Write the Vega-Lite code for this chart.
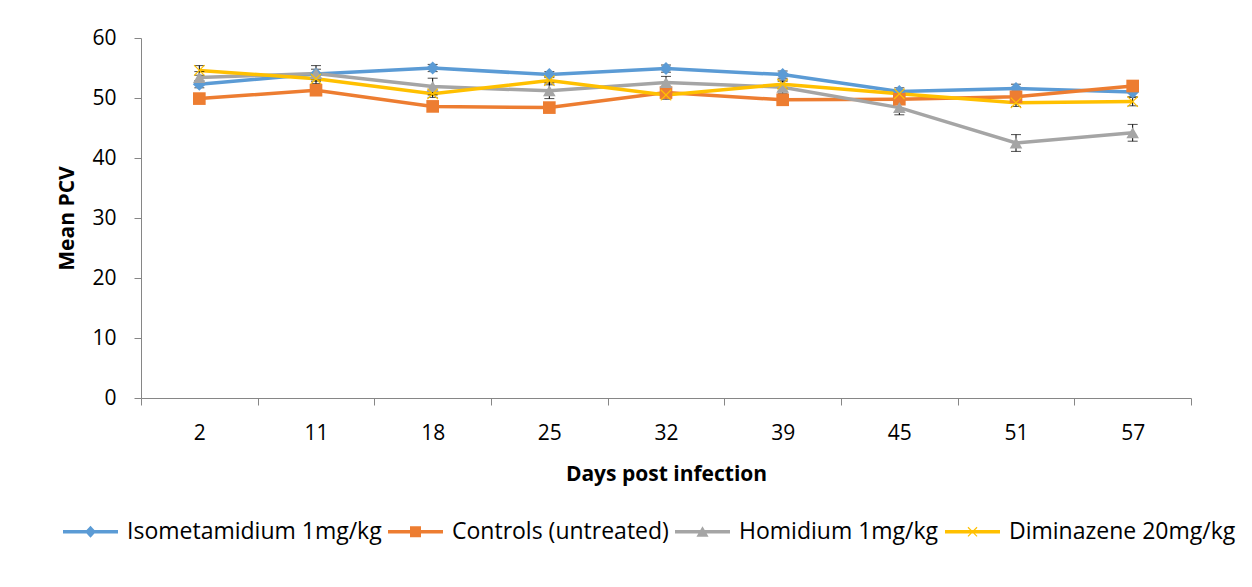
{
  "$schema": "https://vega.github.io/schema/vega-lite/v6.json",
  "width": 1050,
  "height": 360,
  "autosize": {"type": "none"},
  "padding": {"left": 141, "top": 38, "right": 61, "bottom": 189},
  "background": "white",
  "config": {
    "view": {"stroke": null},
    "font": "Open Sans",
    "axis": {
      "labelFont": "Open Sans",
      "labelFontSize": 21,
      "labelColor": "#000000",
      "titleFont": "Open Sans",
      "titleFontSize": 21,
      "titleFontWeight": "bold",
      "titleColor": "#000000",
      "domainColor": "#868686",
      "tickColor": "#868686",
      "tickSize": 7,
      "grid": false
    }
  },
  "data": {
    "values": [
      {"day": 2, "series": "Isometamidium 1mg/kg", "pcv": 52.3, "err": 0.6},
      {"day": 11, "series": "Isometamidium 1mg/kg", "pcv": 54.0, "err": 0.8},
      {"day": 18, "series": "Isometamidium 1mg/kg", "pcv": 55.0, "err": 0.6},
      {"day": 25, "series": "Isometamidium 1mg/kg", "pcv": 53.9, "err": 0.5},
      {"day": 32, "series": "Isometamidium 1mg/kg", "pcv": 54.9, "err": 0.6},
      {"day": 39, "series": "Isometamidium 1mg/kg", "pcv": 53.9, "err": 0.6},
      {"day": 45, "series": "Isometamidium 1mg/kg", "pcv": 51.1, "err": 0.6},
      {"day": 51, "series": "Isometamidium 1mg/kg", "pcv": 51.6, "err": 0.7},
      {"day": 57, "series": "Isometamidium 1mg/kg", "pcv": 51.0, "err": 0.8},
      {"day": 2, "series": "Controls (untreated)", "pcv": 49.9, "err": 0.6},
      {"day": 11, "series": "Controls (untreated)", "pcv": 51.3, "err": 0.7},
      {"day": 18, "series": "Controls (untreated)", "pcv": 48.6, "err": 0.6},
      {"day": 25, "series": "Controls (untreated)", "pcv": 48.4, "err": 0.6},
      {"day": 32, "series": "Controls (untreated)", "pcv": 50.9, "err": 0.8},
      {"day": 39, "series": "Controls (untreated)", "pcv": 49.7, "err": 0.6},
      {"day": 45, "series": "Controls (untreated)", "pcv": 49.8, "err": 0.6},
      {"day": 51, "series": "Controls (untreated)", "pcv": 50.2, "err": 0.7},
      {"day": 57, "series": "Controls (untreated)", "pcv": 52.0, "err": 0.8},
      {"day": 2, "series": "Homidium 1mg/kg", "pcv": 53.4, "err": 1.0},
      {"day": 11, "series": "Homidium 1mg/kg", "pcv": 54.1, "err": 1.3},
      {"day": 18, "series": "Homidium 1mg/kg", "pcv": 51.9, "err": 1.4},
      {"day": 25, "series": "Homidium 1mg/kg", "pcv": 51.2, "err": 1.3},
      {"day": 32, "series": "Homidium 1mg/kg", "pcv": 52.6, "err": 1.0},
      {"day": 39, "series": "Homidium 1mg/kg", "pcv": 51.8, "err": 1.0},
      {"day": 45, "series": "Homidium 1mg/kg", "pcv": 48.4, "err": 1.2},
      {"day": 51, "series": "Homidium 1mg/kg", "pcv": 42.5, "err": 1.4},
      {"day": 57, "series": "Homidium 1mg/kg", "pcv": 44.2, "err": 1.4},
      {"day": 2, "series": "Diminazene 20mg/kg", "pcv": 54.6, "err": 0.8},
      {"day": 11, "series": "Diminazene 20mg/kg", "pcv": 53.2, "err": 0.8},
      {"day": 18, "series": "Diminazene 20mg/kg", "pcv": 50.7, "err": 0.6},
      {"day": 25, "series": "Diminazene 20mg/kg", "pcv": 52.9, "err": 0.7},
      {"day": 32, "series": "Diminazene 20mg/kg", "pcv": 50.5, "err": 0.7},
      {"day": 39, "series": "Diminazene 20mg/kg", "pcv": 52.3, "err": 0.7},
      {"day": 45, "series": "Diminazene 20mg/kg", "pcv": 50.7, "err": 0.6},
      {"day": 51, "series": "Diminazene 20mg/kg", "pcv": 49.2, "err": 0.6},
      {"day": 57, "series": "Diminazene 20mg/kg", "pcv": 49.4, "err": 0.7}
    ]
  },
  "encoding": {
    "x": {
      "field": "day",
      "type": "ordinal",
      "sort": "ascending",
      "scale": {"type": "band", "paddingInner": 0, "paddingOuter": 0},
      "axis": {
        "title": "Days post infection",
        "labelAngle": 0,
        "tickBand": "extent",
        "labelPadding": 17,
        "titlePadding": 20
      }
    },
    "y": {
      "field": "pcv",
      "type": "quantitative",
      "scale": {"domain": [0, 60], "nice": false, "zero": true},
      "axis": {
        "title": "Mean PCV",
        "values": [0, 10, 20, 30, 40, 50, 60],
        "labelPadding": 18,
        "titlePadding": 14
      }
    }
  },
  "layer": [
    {
      "transform": [{"filter": "datum.series === 'Isometamidium 1mg/kg'"}],
      "mark": {"type": "line", "strokeWidth": 3.5, "color": "#5B9BD5"}
    },
    {
      "transform": [{"filter": "datum.series === 'Controls (untreated)'"}],
      "mark": {"type": "line", "strokeWidth": 3.5, "color": "#ED7D31"}
    },
    {
      "transform": [{"filter": "datum.series === 'Homidium 1mg/kg'"}],
      "mark": {"type": "line", "strokeWidth": 3.5, "color": "#A5A5A5"}
    },
    {
      "transform": [{"filter": "datum.series === 'Diminazene 20mg/kg'"}],
      "mark": {"type": "line", "strokeWidth": 3.5, "color": "#FFC000"}
    },
    {
      "mark": {"type": "errorbar", "ticks": {"size": 10}, "color": "black", "thickness": 1},
      "encoding": {
        "x": {"field": "day", "type": "ordinal"},
        "y": {"field": "pcv", "type": "quantitative"},
        "yError": {"field": "err"},
        "detail": {"field": "series"}
      }
    },
    {
      "transform": [{"filter": "datum.series === 'Isometamidium 1mg/kg'"}],
      "mark": {"type": "point", "shape": "diamond", "filled": true, "opacity": 1, "size": 170, "color": "#5B9BD5"}
    },
    {
      "transform": [{"filter": "datum.series === 'Controls (untreated)'"}],
      "mark": {"type": "point", "shape": "square", "filled": true, "opacity": 1, "size": 160, "color": "#ED7D31"}
    },
    {
      "transform": [{"filter": "datum.series === 'Homidium 1mg/kg'"}],
      "mark": {"type": "point", "shape": "triangle-up", "filled": true, "opacity": 1, "size": 160, "color": "#A5A5A5"}
    },
    {
      "transform": [{"filter": "datum.series === 'Diminazene 20mg/kg'"}],
      "mark": {"type": "point", "shape": "M-1,-1L1,1M-1,1L1,-1", "filled": false, "opacity": 1, "size": 110, "strokeWidth": 1.2, "color": "#FFC000"}
    },
    {
      "transform": [{"filter": "datum.pcv < 0"}],
      "mark": {"type": "point", "filled": true, "opacity": 1},
      "encoding": {
        "color": {
          "field": "series",
          "type": "nominal",
          "scale": {
            "domain": ["Isometamidium 1mg/kg", "Controls (untreated)", "Homidium 1mg/kg", "Diminazene 20mg/kg"],
            "range": ["#5B9BD5", "#ED7D31", "#A5A5A5", "#FFC000"]
          },
          "legend": {
            "orient": "none",
            "legendX": -79,
            "legendY": 465,
            "direction": "horizontal",
            "title": null,
            "symbolSize": 3025,
            "symbolOpacity": 1,
            "labelFont": "Open Sans",
            "labelFontSize": 23,
            "labelColor": "#000000",
            "labelOffset": 8,
            "labelLimit": 0,
            "columnPadding": 3,
            "padding": 0
          }
        },
        "shape": {
          "field": "series",
          "type": "nominal",
          "scale": {
            "domain": ["Isometamidium 1mg/kg", "Controls (untreated)", "Homidium 1mg/kg", "Diminazene 20mg/kg"],
            "range": [
              "M-1,-0.064H1V0.064H-1Z M0,-0.22L0.2,0L0,0.22L-0.2,0Z",
              "M-1,-0.064H1V0.064H-1Z M-0.2,-0.2H0.2V0.2H-0.2Z",
              "M-1,-0.064H1V0.064H-1Z M0,-0.2L0.22,0.18H-0.22Z",
              "M-1,-0.064H1V0.064H-1Z M-0.15,-0.18L0.18,0.15L0.15,0.18L-0.18,-0.15Z M0.15,-0.18L0.18,-0.15L-0.15,0.18L-0.18,0.15Z"
            ]
          },
          "legend": {
            "orient": "none",
            "legendX": -79,
            "legendY": 465,
            "direction": "horizontal",
            "title": null,
            "symbolSize": 3025,
            "symbolOpacity": 1,
            "labelFont": "Open Sans",
            "labelFontSize": 23,
            "labelColor": "#000000",
            "labelOffset": 8,
            "labelLimit": 0,
            "columnPadding": 3,
            "padding": 0
          }
        }
      }
    }
  ]
}
